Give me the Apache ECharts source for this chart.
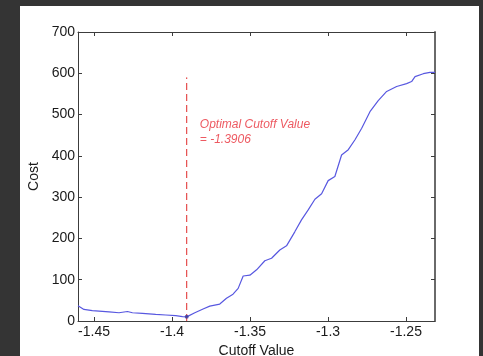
<!DOCTYPE html>
<html>
<head>
<meta charset="utf-8">
<script src="https://cdn.jsdelivr.net/npm/echarts@6/dist/echarts.min.js"></script>
<style>
  html, body { margin: 0; padding: 0; background: #343434; }
  #chart { width: 483px; height: 356px; }
</style>
</head>
<body>
<div id="chart"></div>
<script>
// cutoff values (x) and cost (y)
const cutoff = [-1.4603, -1.4565, -1.4511, -1.4404, -1.4340, -1.4286, -1.4254, -1.4190, -1.4105, -1.4040,
  -1.3976, -1.3933, -1.3906, -1.3854, -1.3801, -1.3758, -1.3694, -1.3651, -1.3609, -1.3576,
  -1.3544, -1.3501, -1.3458, -1.3405, -1.3362, -1.3309, -1.3266, -1.3213, -1.3170, -1.3127,
  -1.3084, -1.3041, -1.2999, -1.2956, -1.2913, -1.2870, -1.2827, -1.2784, -1.2731, -1.2678,
  -1.2624, -1.2560, -1.2496, -1.2464, -1.2442, -1.2389, -1.2346, -1.2314];
const cost = [37, 28, 25, 22, 20, 23, 20, 18.5, 16, 14.5,
  13, 10.5, 10, 20, 29, 36, 41, 55, 65, 79,
  109, 111, 124, 146, 152, 172, 182, 216, 245, 269,
  295, 308, 340, 350, 402, 415, 439, 467, 507, 534,
  556, 568, 575, 580, 592, 599, 602, 602];

const xTicks = [-1.45, -1.4, -1.35, -1.3, -1.25];
const optimalCutoff = -1.3906;
const optimalCost = 10;
const markerTop = 590;
const noteAnchor = [-1.3822, 457];
const noteLines = ['Optimal Cutoff Value', '= -1.3906'];

const xMin = -1.4603, xMax = -1.2314;

const chart = echarts.init(document.getElementById('chart'));

const labelFont = { color: '#1a1a1a', fontSize: 14, fontFamily: 'Liberation Sans, Arial, sans-serif' };
const lineColor = '#3c3c3c';

const option = {
  animation: false,
  graphic: [{
    type: 'rect', z: -10, silent: true,
    shape: { x: 20, y: 6, width: 459, height: 360 },
    style: { fill: '#ffffff' }
  }],
  grid: { left: 78, right: 48, top: 32, bottom: 35, outerBoundsMode: 'none', containLabel: false },
  xAxis: [{
    type: 'value', min: xMin, max: xMax,
    name: 'Cutoff Value', nameLocation: 'middle', nameGap: 20,
    nameTextStyle: labelFont,
    axisLine: { onZero: false, lineStyle: { color: lineColor, width: 1 } },
    axisTick: { inside: true, length: 4, customValues: xTicks, lineStyle: { color: lineColor } },
    axisLabel: Object.assign({ customValues: xTicks, margin: 4, formatter: v => String(+v.toFixed(2)) }, labelFont),
    splitLine: { show: false }
  }, {
    type: 'value', min: xMin, max: xMax, position: 'top',
    axisLine: { show: true, onZero: false, lineStyle: { color: lineColor, width: 1 } },
    axisTick: { inside: true, length: 4, customValues: xTicks, lineStyle: { color: lineColor } },
    axisLabel: { show: false },
    splitLine: { show: false }
  }],
  yAxis: [{
    type: 'value', min: 0, max: 700, interval: 100,
    name: 'Cost', nameLocation: 'middle', nameGap: 29, nameRotate: 90,
    nameTextStyle: labelFont,
    axisLine: { show: true, onZero: false, lineStyle: { color: lineColor, width: 1 } },
    axisTick: { show: true, inside: true, length: 4, lineStyle: { color: lineColor } },
    axisLabel: Object.assign({ margin: 3 }, labelFont),
    splitLine: { show: false }
  }, {
    type: 'value', min: 0, max: 700, interval: 100, position: 'right',
    axisLine: { show: true, onZero: false, lineStyle: { color: '#6a6a6a', width: 2 } },
    axisTick: { show: true, inside: true, length: 4, lineStyle: { color: lineColor } },
    axisLabel: { show: false },
    splitLine: { show: false }
  }],
  series: [{
    type: 'line',
    data: cutoff.map((x, i) => [x, cost[i]]),
    showSymbol: false,
    lineStyle: { color: '#5858e0', width: 1.2 },
    z: 3
  }, {
    type: 'line',
    data: [[optimalCutoff, 0], [optimalCutoff, markerTop]],
    showSymbol: false,
    lineStyle: { color: '#e02a2a', width: 1, type: [7, 4] },
    z: 2
  }, {
    type: 'scatter',
    data: [[optimalCutoff, optimalCost]],
    symbolSize: 4,
    itemStyle: { color: '#3a3a9a' },
    z: 4
  }, {
    type: 'scatter',
    data: [noteAnchor],
    symbolSize: 0,
    label: {
      show: true, position: 'right', distance: 0,
      formatter: noteLines.join('\n'),
      color: '#e8303a', fontSize: 12, fontStyle: 'italic', lineHeight: 15,
      fontFamily: 'Liberation Sans, Arial, sans-serif'
    },
    silent: true
  }]
};

chart.setOption(option);
</script>
</body>
</html>
